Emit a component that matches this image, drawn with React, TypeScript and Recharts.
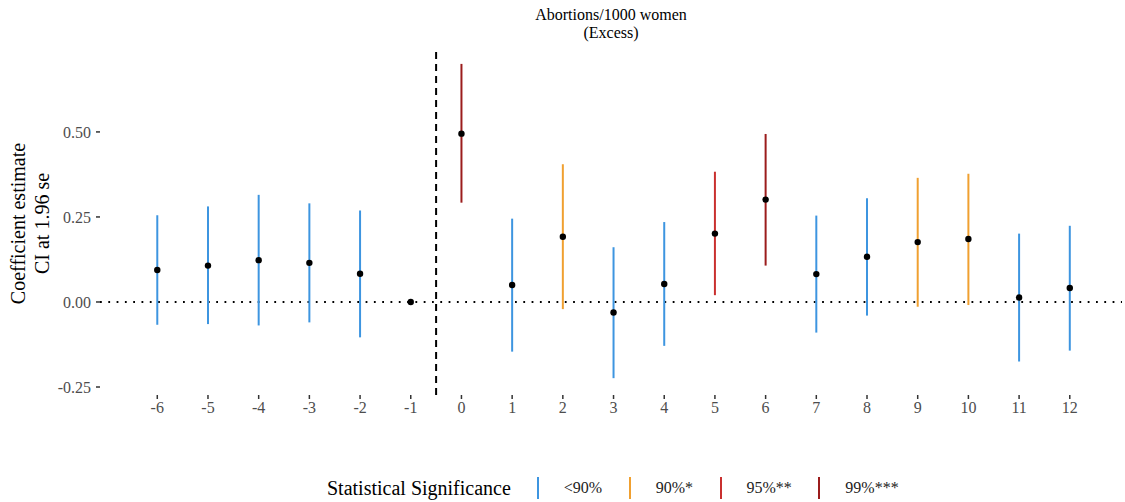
import React from 'react';
import { ComposedChart, Scatter, ErrorBar, XAxis, YAxis, ReferenceLine } from 'recharts';

// event-study coefficients
const periods = [-6, -5, -4, -3, -2, -1, 0, 1, 2, 3, 4, 5, 6, 7, 8, 9, 10, 11, 12];
const estimates = [0.094, 0.107, 0.123, 0.115, 0.083, 0, 0.495, 0.050, 0.192, -0.031, 0.053, 0.201, 0.301, 0.082, 0.133, 0.176, 0.185, 0.013, 0.041];
const ciLow = [-0.067, -0.065, -0.069, -0.060, -0.104, null, 0.292, -0.146, -0.021, -0.224, -0.129, 0.020, 0.107, -0.090, -0.040, -0.014, -0.009, -0.175, -0.143];
const ciHigh = [0.255, 0.281, 0.315, 0.290, 0.269, null, 0.700, 0.245, 0.405, 0.161, 0.235, 0.383, 0.494, 0.254, 0.305, 0.365, 0.377, 0.201, 0.224];
const significance = ['<90%', '<90%', '<90%', '<90%', '<90%', null, '99%***', '<90%', '90%*', '<90%', '<90%', '95%**', '99%***', '<90%', '<90%', '90%*', '90%*', '<90%', '<90%'];

const levels = ['<90%', '90%*', '95%**', '99%***'];
const levelColors = ['#3d95e0', '#f0a030', '#c9302f', '#9b1c1c'];
const yTicks = [-0.25, 0, 0.25, 0.5];

const serif = '"Liberation Serif", "DejaVu Serif", serif';

const rows = periods.map((p, i) => ({
  x: p,
  y: estimates[i],
  sig: significance[i],
  err: ciLow[i] == null ? null : [estimates[i] - (ciLow[i] as number), (ciHigh[i] as number) - estimates[i]],
}));

const noShape = () => <g />;

const YTitle = (props: any) => {
  const vb = props.viewBox || { x: 0, y: 0, width: 0, height: 0 };
  const cy = vb.y + vb.height / 2;
  return (
    <g>
      <text x={25} y={cy} transform={`rotate(-90 25 ${cy})`} textAnchor="middle" fontSize={20} fontFamily={serif} fill="#000">
        Coefficient estimate
      </text>
      <text x={49} y={cy} transform={`rotate(-90 49 ${cy})`} textAnchor="middle" fontSize={20} fontFamily={serif} fill="#000">
        CI at 1.96 se
      </text>
    </g>
  );
};

export default function App() {
  const tickStyle = { fill: '#4d4d4d', fontSize: 16, fontFamily: serif };
  return (
    <div style={{ position: 'absolute', left: 0, top: 0, width: 1125, height: 502, background: '#fff', fontFamily: serif }}>
      <div style={{ position: 'absolute', left: 100, width: 1022, top: 6, textAlign: 'center', fontSize: 16, lineHeight: '18px', color: '#000' }}>
        Abortions/1000 women
        <br />
        (Excess)
      </div>
      <ComposedChart width={1125} height={440} margin={{ top: 52, right: 3, left: 0, bottom: 0 }}>
        <XAxis
          type="number"
          dataKey="x"
          domain={[-7.13, 13.03]}
          ticks={periods}
          interval={0}
          allowDataOverflow
          height={45}
          axisLine={false}
          tickSize={4}
          tickMargin={3}
          tickLine={{ stroke: '#333', strokeWidth: 1.5 }}
          tick={tickStyle}
        />
        <YAxis
          type="number"
          dataKey="y"
          domain={[-0.2735, 0.735]}
          ticks={yTicks}
          allowDataOverflow
          width={100}
          axisLine={false}
          tickSize={4}
          tickMargin={5}
          tickLine={{ stroke: '#333', strokeWidth: 1.5 }}
          tick={tickStyle}
          tickFormatter={(v: number) => v.toFixed(2)}
          label={{ content: YTitle }}
        />
        <ReferenceLine y={0} stroke="#000" strokeWidth={1.8} strokeDasharray="1.8 6.5" />
        <ReferenceLine x={-0.5} stroke="#000" strokeWidth={2} strokeDasharray="7 5" />
        {levels.map((lv, k) => (
          <Scatter
            key={lv}
            data={rows.filter((r) => r.sig === lv)}
            shape={noShape}
            isAnimationActive={false}
          >
            <ErrorBar dataKey="err" direction="y" width={0} stroke={levelColors[k]} strokeWidth={2} isAnimationActive={false} />
          </Scatter>
        ))}
        <Scatter
          data={rows}
          fill="#000"
          isAnimationActive={false}
          shape={(p: any) => <circle cx={p.cx} cy={p.cy} r={3.2} fill="#000" />}
        />
      </ComposedChart>
      <div style={{ position: 'absolute', left: 327, top: 476, display: 'flex', alignItems: 'center', height: 24, color: '#000' }}>
        <span style={{ fontSize: 20, marginRight: 18.5, whiteSpace: 'nowrap' }}>Statistical Significance</span>
        {levels.map((lv, k) => (
          <React.Fragment key={lv}>
            <div style={{ width: 17, height: 22, position: 'relative' }}>
              <div style={{ position: 'absolute', left: 7.5, top: 0, width: 2, height: 22, background: levelColors[k] }} />
            </div>
            <span style={{ fontSize: 16, marginLeft: 17.5, marginRight: 19, whiteSpace: 'nowrap', color: '#222' }}>{lv}</span>
          </React.Fragment>
        ))}
      </div>
    </div>
  );
}
